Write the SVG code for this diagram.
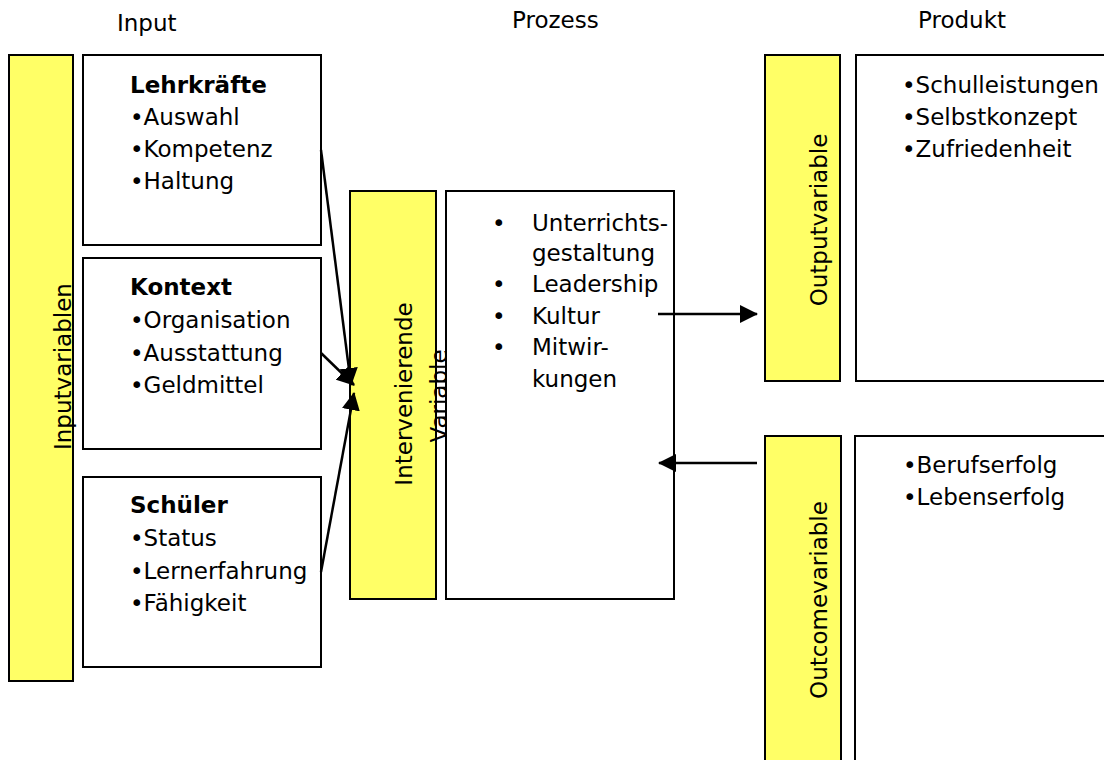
<svg xmlns="http://www.w3.org/2000/svg" width="1104" height="760" viewBox="0 0 1104 760">
  <style>
    .t { font-family: "DejaVu Sans", "Liberation Sans", sans-serif; font-size: 23px; fill: #000; }
    .b { font-weight: bold; }
    .bar { fill: #FFFF66; stroke: #000; stroke-width: 2; }
    .box { fill: #FFFFFF; stroke: #000; stroke-width: 2; }
    .conn { stroke: #000; stroke-width: 2.5; fill: none; marker-end: url(#head); }
  </style>
  <defs>
    <marker id="head" markerUnits="userSpaceOnUse" markerWidth="20" markerHeight="18" refX="17" refY="9" orient="auto">
      <path d="M0,0 L18,9 L0,18 Z" fill="#000"/>
    </marker>
  </defs>
  <rect width="1104" height="760" fill="#fff"/>

  <!-- column headings -->
  <g id="headings">
    <text class="t" x="117" y="31">Input</text>
    <text class="t" x="512" y="28">Prozess</text>
    <text class="t" x="918" y="28">Produkt</text>
  </g>

  <!-- input side -->
  <g id="inputvariablen">
    <rect class="bar" x="9" y="55" width="64" height="626"/>
    <text class="t" transform="translate(71,450) rotate(-90)">Inputvariablen</text>
  </g>

  <g id="lehrkraefte">
    <rect class="box" x="83" y="55" width="238" height="190"/>
    <text class="t b" x="130" y="93">Lehrkräfte</text>
    <text class="t" x="130" y="125">•Auswahl</text>
    <text class="t" x="130" y="157">•Kompetenz</text>
    <text class="t" x="130" y="189">•Haltung</text>
  </g>

  <g id="kontext">
    <rect class="box" x="83" y="258" width="238" height="191"/>
    <text class="t b" x="130" y="295">Kontext</text>
    <text class="t" x="130" y="328">•Organisation</text>
    <text class="t" x="130" y="361">•Ausstattung</text>
    <text class="t" x="130" y="393">•Geldmittel</text>
  </g>

  <g id="schueler">
    <rect class="box" x="83" y="477" width="238" height="190"/>
    <text class="t b" x="130" y="513">Schüler</text>
    <text class="t" x="130" y="546">•Status</text>
    <text class="t" x="130" y="579">•Lernerfahrung</text>
    <text class="t" x="130" y="611">•Fähigkeit</text>
  </g>

  <!-- process -->
  <g id="intervenierende">
    <rect class="bar" x="350" y="191" width="86" height="408"/>
    <text class="t" text-anchor="middle" transform="translate(412,394) rotate(-90)">Intervenierende</text>
    <text class="t" text-anchor="middle" transform="translate(447,396) rotate(-90)">Variable</text>
  </g>

  <g id="prozess">
    <rect class="box" x="446" y="191" width="228" height="408"/>
    <text class="t" x="492" y="231">•</text>
    <text class="t" x="532" y="231">Unterrichts-</text>
    <text class="t" x="532" y="261">gestaltung</text>
    <text class="t" x="492" y="292">•</text>
    <text class="t" x="532" y="292">Leadership</text>
    <text class="t" x="492" y="324">•</text>
    <text class="t" x="532" y="324">Kultur</text>
    <text class="t" x="492" y="355">•</text>
    <text class="t" x="532" y="355">Mitwir-</text>
    <text class="t" x="532" y="387">kungen</text>
  </g>

  <!-- product -->
  <g id="outputvariable">
    <rect class="bar" x="765" y="55" width="75" height="326"/>
    <text class="t" text-anchor="middle" transform="translate(827,220) rotate(-90)">Outputvariable</text>
  </g>

  <g id="output">
    <rect class="box" x="856" y="55" width="260" height="326"/>
    <text class="t" x="902" y="93">•Schulleistungen</text>
    <text class="t" x="902" y="125">•Selbstkonzept</text>
    <text class="t" x="902" y="157">•Zufriedenheit</text>
  </g>

  <g id="outcomevariable">
    <rect class="bar" x="765" y="436" width="76" height="340"/>
    <text class="t" text-anchor="middle" transform="translate(827,600) rotate(-90)">Outcomevariable</text>
  </g>

  <g id="outcome">
    <rect class="box" x="855" y="436" width="260" height="340"/>
    <text class="t" x="903" y="473">•Berufserfolg</text>
    <text class="t" x="903" y="505">•Lebenserfolg</text>
  </g>

  <!-- connectors -->
  <g id="connectors">
    <line class="conn" x1="321" y1="150" x2="351" y2="385"/>
    <line class="conn" x1="321" y1="353" x2="354" y2="385"/>
    <line class="conn" x1="321" y1="572" x2="354" y2="393"/>
    <line class="conn" x1="658" y1="314" x2="757" y2="314"/>
    <line class="conn" x1="757" y1="463" x2="659" y2="463"/>
  </g>
</svg>
